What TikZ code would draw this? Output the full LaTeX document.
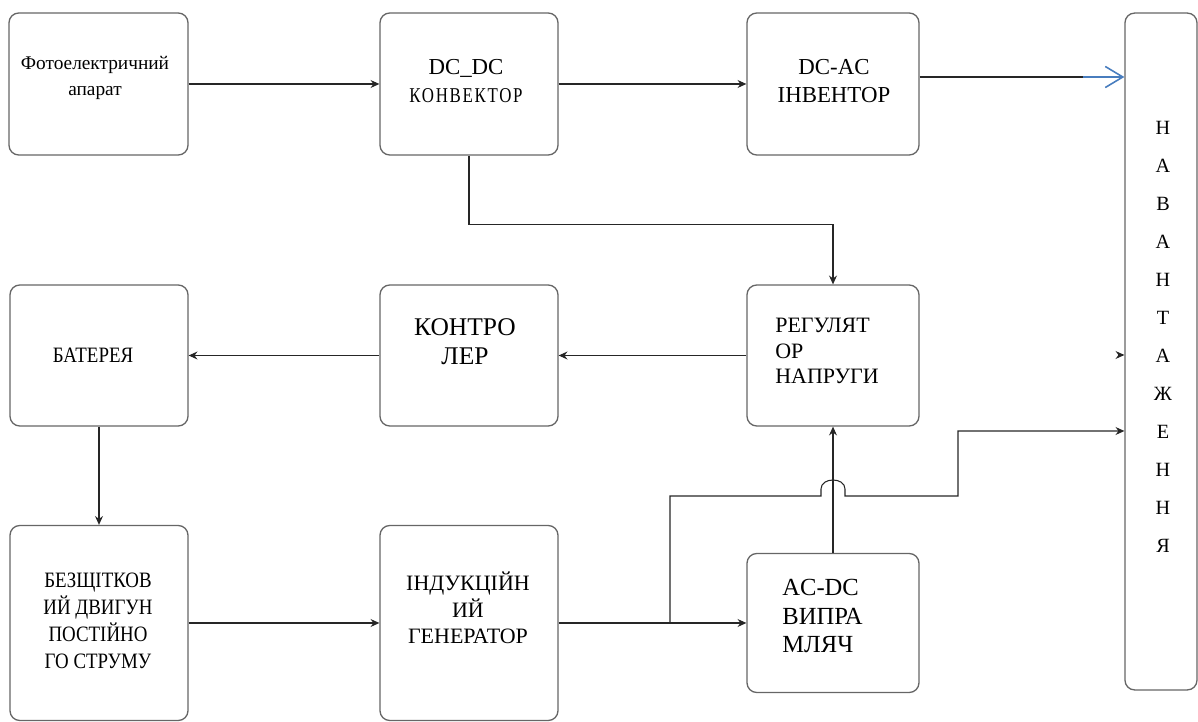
\documentclass[tikz,border=0pt]{standalone}
\usepackage{fontspec}
\setmainfont{Liberation Serif}
\newfontfamily\narrowfont[FakeStretch=0.86]{Liberation Serif}
\newfontfamily\spacedfont[FakeStretch=0.8,LetterSpace=8]{Liberation Serif}
\usetikzlibrary{arrows.meta}
\definecolor{linkblue}{RGB}{72,125,190}

\begin{document}
\begin{tikzpicture}
[   x=0.02cm, y=-0.02cm,
    box/.style={draw=black!60,line width=0.75pt,rounded corners=5.5pt,inner sep=0pt,
                minimum width=3.56cm,minimum height=2.82cm},
    lbl/.style={align=center,inner sep=0pt,text=black},
    arr/.style={draw=black!85,line width=0.6pt,-{Stealth[length=5pt,width=4.5pt]}},
    wire/.style={draw=black!85,line width=0.6pt},
]
    \useasboundingbox (0,0) rectangle (1198,722);

    % blocks
    \node[box,minimum width=3.58cm,minimum height=2.84cm] (photo) at (98.5,84) {};
    \node[box,minimum height=2.84cm] (dcdc) at (469,84) {};
    \node[box,minimum width=3.44cm,minimum height=2.84cm] (dcac) at (833,84) {};
    \node[box] (bat) at (99,355.5) {};
    \node[box] (ctrl) at (469,355.5) {};
    \node[box,minimum width=3.44cm] (reg) at (833,355.5) {};
    \node[box,minimum height=3.9cm] (motor) at (99,623) {};
    \node[box,minimum height=3.9cm] (gen) at (469,623) {};
    \node[box,minimum width=3.44cm,minimum height=2.78cm] (acdc) at (833,623) {};
    \node[box,minimum width=1.44cm,minimum height=13.54cm] (load) at (1161,351.5) {};

    % labels
    \node[lbl,font={\fontsize{11}{14.7}\selectfont}] (photo-t) at (95,78) {Фотоелектричний\\апарат};
    \node[lbl,font={\fontsize{13}{15.9}\selectfont}] (dcdc-t) at (466,81)
        {DC\_DC\\{\spacedfont\fontsize{12}{15.9}\selectfont КОНВЕКТОР}};
    \node[lbl,font={\fontsize{13}{15.9}\selectfont}] (dcac-t) at (834,81) {DC-AC\\ІНВЕНТОР};
    \node[lbl,font={\narrowfont\fontsize{12.5}{15}\selectfont}] (bat-t) at (93,355) {БАТЕРЕЯ};
    \node[lbl,font={\fontsize{14.5}{16.4}\selectfont}] (ctrl-t) at (465,342) {КОНТРО\\ЛЕР};
    \node[lbl,align=left,anchor=west,font={\fontsize{12.5}{14.7}\selectfont}] (reg-t) at (775,351)
        {РЕГУЛЯТ\\ОР\\НАПРУГИ};
    \node[lbl,font={\narrowfont\fontsize{12.5}{15.3}\selectfont}] (motor-t) at (98,621)
        {БЕЗЩІТКОВ\\ИЙ ДВИГУН\\ПОСТІЙНО\\ГО СТРУМУ};
    \node[lbl,font={\fontsize{12.5}{15}\selectfont}] (gen-t) at (468,608) {ІНДУКЦІЙН\\ИЙ\\ГЕНЕРАТОР};
    \node[lbl,align=left,anchor=west,font={\fontsize{14}{16.2}\selectfont}] (acdc-t) at (782,616)
        {AC-DC\\ВИПРА\\МЛЯЧ};
    \foreach \ch [count=\i] in {Н,А,В,А,Н,Т,А,Ж,Е,Н,Н,Я}
    {   \node[lbl,font={\fontsize{11.5}{14}\selectfont}] (load-\i) at (1163,{128+38*(\i-1)}) {\ch};
    }

    % connectors
    \coordinate (in-top) at (load.west |- 0,77);
    \coordinate (blue-start) at (1083,77);
    \coordinate (in-mid) at (load.west |- 0,355);
    \coordinate (in-low) at (load.west |- 0,431);
    \coordinate (br) at (670,623);

    \draw[arr] (photo) -- (dcdc);
    \draw[arr] (dcdc) -- (dcac);
    \draw[wire] (dcac.east |- in-top) -- (blue-start);
    \draw[draw=linkblue,line width=0.9pt,-{Straight Barb[length=10pt,width=12pt]}] (blue-start) -- (in-top);
    \draw[arr] (dcdc.south) -- ++(0,69) -| (reg.north);
    \draw[arr] (reg) -- (ctrl);
    \draw[arr] (ctrl) -- (bat);
    \draw[arr] (bat) -- (motor);
    \draw[arr] (motor) -- (gen);
    \draw[arr] (gen) -- (acdc);
    \draw[arr] (acdc) -- (reg);
    \draw[arr] (br) |- (821,496) -- (821,489) .. controls (821,477) and (845,477) .. (845,489)
        -- (845,496) -- (958,496) |- (in-low);
    \draw[arr] ([xshift=-0.5pt]in-mid) -- (in-mid);
\end{tikzpicture}
\end{document}
